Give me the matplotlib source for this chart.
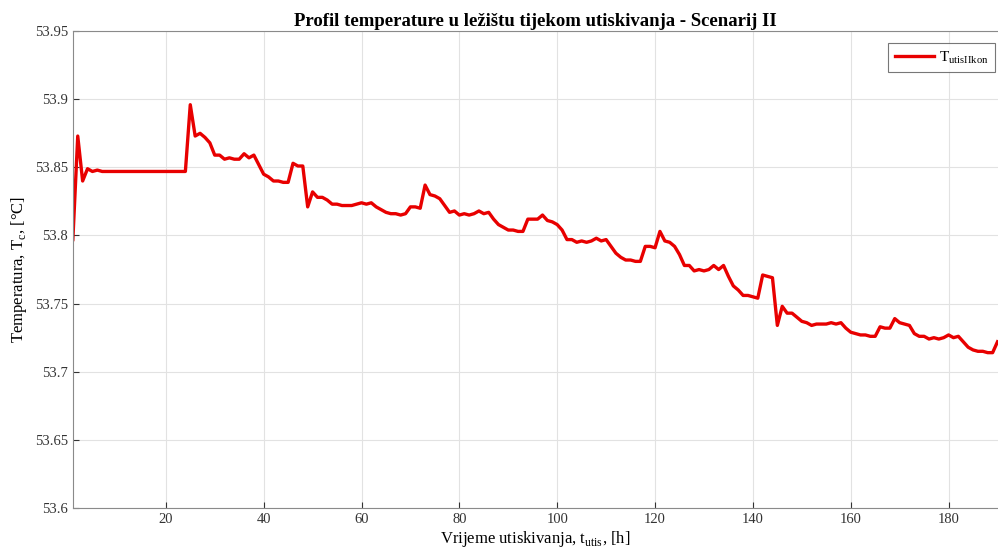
#!/usr/bin/env python

import numpy as np
import matplotlib
matplotlib.use('Agg')
import matplotlib.pyplot as plt

# hourly temperature values (t = 1..190 h)
hours = np.arange(1, 191)
temperature = [
    53.797, 53.873, 53.840, 53.849, 53.847, 53.848, 53.847, 53.847, 53.847, 53.847,
    53.847, 53.847, 53.847, 53.847, 53.847, 53.847, 53.847, 53.847, 53.847, 53.847,
    53.847, 53.847, 53.847, 53.847, 53.896, 53.873, 53.875, 53.872, 53.868, 53.859,
    53.859, 53.856, 53.857, 53.856, 53.856, 53.860, 53.857, 53.859, 53.852, 53.845,
    53.843, 53.840, 53.840, 53.839, 53.839, 53.853, 53.851, 53.851, 53.821, 53.832,
    53.828, 53.828, 53.826, 53.823, 53.823, 53.822, 53.822, 53.822, 53.823, 53.824,
    53.823, 53.824, 53.821, 53.819, 53.817, 53.816, 53.816, 53.815, 53.816, 53.821,
    53.821, 53.820, 53.837, 53.830, 53.829, 53.827, 53.822, 53.817, 53.818, 53.815,
    53.816, 53.815, 53.816, 53.818, 53.816, 53.817, 53.812, 53.808, 53.806, 53.804,
    53.804, 53.803, 53.803, 53.812, 53.812, 53.812, 53.815, 53.811, 53.810, 53.808,
    53.804, 53.797, 53.797, 53.795, 53.796, 53.795, 53.796, 53.798, 53.796, 53.797,
    53.792, 53.787, 53.784, 53.782, 53.782, 53.781, 53.781, 53.792, 53.792, 53.791,
    53.803, 53.796, 53.795, 53.792, 53.786, 53.778, 53.778, 53.774, 53.775, 53.774,
    53.775, 53.778, 53.775, 53.778, 53.770, 53.763, 53.760, 53.756, 53.756, 53.755,
    53.754, 53.771, 53.770, 53.769, 53.734, 53.748, 53.743, 53.743, 53.740, 53.737,
    53.736, 53.734, 53.735, 53.735, 53.735, 53.736, 53.735, 53.736, 53.732, 53.729,
    53.728, 53.727, 53.727, 53.726, 53.726, 53.733, 53.732, 53.732, 53.739, 53.736,
    53.735, 53.734, 53.728, 53.726, 53.726, 53.724, 53.725, 53.724, 53.725, 53.727,
    53.725, 53.726, 53.722, 53.718, 53.716, 53.715, 53.715, 53.714, 53.714, 53.722,
]
x_ticks = [20, 40, 60, 80, 100, 120, 140, 160, 180]
y_ticks = [53.6, 53.65, 53.7, 53.75, 53.8, 53.85, 53.9, 53.95]

plt.rcParams['font.family'] = ['Liberation Serif', 'DejaVu Serif']
plt.rcParams['mathtext.fontset'] = 'custom'
plt.rcParams['mathtext.rm'] = 'Liberation Serif'

fig = plt.figure(figsize=(9.98, 5.5), dpi=100)
ax = fig.add_axes([0.073, 0.0764, 0.9265, 0.867])

ax.plot(hours, temperature, color='#e80000', linewidth=2.4,
        label=r'T$_{\mathregular{utisIIkon}}$')

ax.set_xlim(1, 190)
ax.set_ylim(53.6, 53.95)
ax.set_xticks(x_ticks)
ax.set_yticks(y_ticks)
ax.set_yticklabels(['%g' % v for v in y_ticks])
ax.tick_params(direction='in', length=4, labelsize=10.5, colors='#333333',
               top=False, right=False)
ax.grid(True, color='#e2e2e2', linewidth=0.8)
for side in ax.spines:
    ax.spines[side].set_color('#8a8a8a')
ax.spines['right'].set_visible(False)

ax.set_title('Profil temperature u ležištu tijekom utiskivanja - Scenarij II',
             fontsize=13.5, fontweight='bold', pad=4)
ax.set_xlabel(r'Vrijeme utiskivanja, t$_{\mathregular{utis}}$, [h]',
              fontsize=12, labelpad=2)
ax.set_ylabel(r'Temperatura, T$_{\mathregular{c}}$, [°C]', fontsize=12,
              labelpad=4)

leg = ax.legend(loc='upper right', bbox_to_anchor=(0.997, 0.975),
                borderaxespad=0, fontsize=11, handlelength=2.6,
                handletextpad=0.3, fancybox=False)
leg.get_frame().set_edgecolor('#555555')
leg.get_frame().set_linewidth(0.8)

fig.savefig('out.png', dpi=100)
